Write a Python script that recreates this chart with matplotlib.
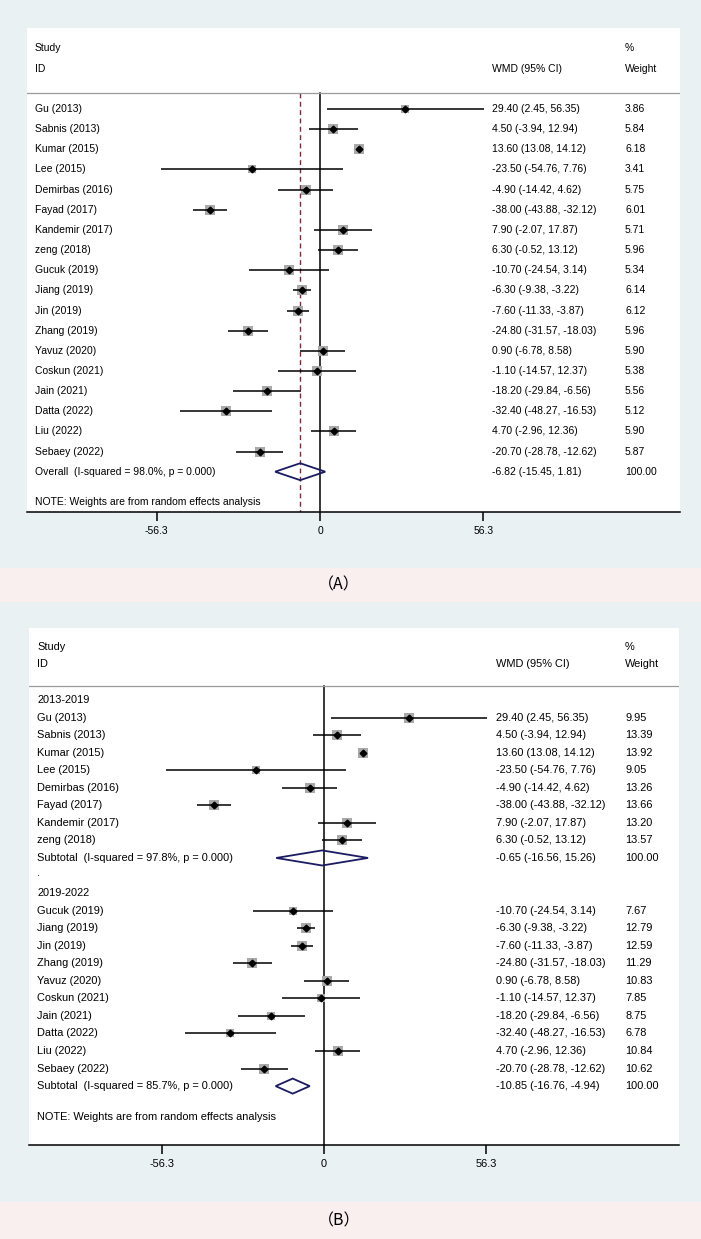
import numpy as np
import matplotlib
matplotlib.use("Agg")
import matplotlib.pyplot as plt
from matplotlib.patches import Polygon, Rectangle

# ---- panel A data (all studies) ----
studies_a = ["Gu (2013)", "Sabnis (2013)", "Kumar (2015)", "Lee (2015)", "Demirbas (2016)",
             "Fayad (2017)", "Kandemir (2017)", "zeng (2018)", "Gucuk (2019)", "Jiang (2019)",
             "Jin (2019)", "Zhang (2019)", "Yavuz (2020)", "Coskun (2021)", "Jain (2021)",
             "Datta (2022)", "Liu (2022)", "Sebaey (2022)"]
est_a = [29.40, 4.50, 13.60, -23.50, -4.90, -38.00, 7.90, 6.30, -10.70, -6.30,
         -7.60, -24.80, 0.90, -1.10, -18.20, -32.40, 4.70, -20.70]
lo_a = [2.45, -3.94, 13.08, -54.76, -14.42, -43.88, -2.07, -0.52, -24.54, -9.38,
        -11.33, -31.57, -6.78, -14.57, -29.84, -48.27, -2.96, -28.78]
hi_a = [56.35, 12.94, 14.12, 7.76, 4.62, -32.12, 17.87, 13.12, 3.14, -3.22,
        -3.87, -18.03, 8.58, 12.37, -6.56, -16.53, 12.36, -12.62]
w_a = [3.86, 5.84, 6.18, 3.41, 5.75, 6.01, 5.71, 5.96, 5.34, 6.14,
       6.12, 5.96, 5.90, 5.38, 5.56, 5.12, 5.90, 5.87]
overall_a = (-6.82, -15.45, 1.81)
overall_a_label = "Overall  (I-squared = 98.0%, p = 0.000)"

# ---- panel B data (subgroups) ----
groups_b = ["2013-2019", "2019-2022"]
studies_b = [["Gu (2013)", "Sabnis (2013)", "Kumar (2015)", "Lee (2015)", "Demirbas (2016)",
              "Fayad (2017)", "Kandemir (2017)", "zeng (2018)"],
             ["Gucuk (2019)", "Jiang (2019)", "Jin (2019)", "Zhang (2019)", "Yavuz (2020)",
              "Coskun (2021)", "Jain (2021)", "Datta (2022)", "Liu (2022)", "Sebaey (2022)"]]
est_b = [[29.40, 4.50, 13.60, -23.50, -4.90, -38.00, 7.90, 6.30],
         [-10.70, -6.30, -7.60, -24.80, 0.90, -1.10, -18.20, -32.40, 4.70, -20.70]]
lo_b = [[2.45, -3.94, 13.08, -54.76, -14.42, -43.88, -2.07, -0.52],
        [-24.54, -9.38, -11.33, -31.57, -6.78, -14.57, -29.84, -48.27, -2.96, -28.78]]
hi_b = [[56.35, 12.94, 14.12, 7.76, 4.62, -32.12, 17.87, 13.12],
        [3.14, -3.22, -3.87, -18.03, 8.58, 12.37, -6.56, -16.53, 12.36, -12.62]]
w_b = [[9.95, 13.39, 13.92, 9.05, 13.26, 13.66, 13.20, 13.57],
       [7.67, 12.79, 12.59, 11.29, 10.83, 7.85, 8.75, 6.78, 10.84, 10.62]]
sub_b = [(-0.65, -16.56, 15.26), (-10.85, -16.76, -4.94)]
sub_b_labels = ["Subtotal  (I-squared = 97.8%, p = 0.000)",
                "Subtotal  (I-squared = 85.7%, p = 0.000)"]

ticks = [-56.3, 0, 56.3]
tick_labels = ["-56.3", "0", "56.3"]

W, H = 701, 1239
BG = "#e9f1f3"
PINK = "#f9efee"
GREY_BOX = "#a9a9a9"
NAVY = "#1b1b62"
plt.rcParams["font.family"] = ["Liberation Sans", "DejaVu Sans"]

fig = plt.figure(figsize=(W / 100, H / 100), dpi=100)
fig.patch.set_facecolor(BG)


def fx(px):
    return px / W


def fy(py):
    return 1 - py / H


def make_axes(x0, x1, ytop, ybot, zero_px, px_per_unit, row0_px, row_step, fs):
    ax = fig.add_axes([fx(x0), fy(ybot), fx(x1 - x0), (ybot - ytop) / H])
    ax.set_facecolor("white")
    ax.set_xlim((x0 - zero_px) / px_per_unit, (x1 - zero_px) / px_per_unit)
    ax.set_ylim((ybot - row0_px) / row_step, (ytop - row0_px) / row_step)
    for s in ["top", "left", "right"]:
        ax.spines[s].set_visible(False)
    ax.spines["bottom"].set_linewidth(1.1)
    ax.set_yticks([])
    ax.set_xticks(ticks)
    ax.set_xticklabels(tick_labels, fontsize=fs)
    ax.tick_params(axis="x", length=6.5, width=1.1, pad=3.5, colors="black")
    return ax


def header(ax, row_study, row_id, row_line, cols, fs):
    tr = ax.get_yaxis_transform()
    ax.text(cols[0], row_study, "Study", transform=tr, fontsize=fs, va="center")
    ax.text(cols[0], row_id, "ID", transform=tr, fontsize=fs, va="center")
    ax.text(cols[1], row_id, "WMD (95% CI)", transform=tr, fontsize=fs, va="center")
    ax.text(cols[2], row_study, "%", transform=tr, fontsize=fs, va="center")
    ax.text(cols[2], row_id, "Weight", transform=tr, fontsize=fs, va="center")
    ax.axhline(row_line, color="#9a9a9a", lw=0.9)


def study_row(ax, y, name, e, l, h, w, wmax, cols, fs, max_side):
    tr = ax.get_yaxis_transform()
    ax.plot([l, h], [y, y], color="black", lw=1.1, solid_capstyle="butt", zorder=3)
    side = max_side * np.sqrt(w / wmax)
    ax.scatter([e], [y], marker="s", s=side ** 2, color=GREY_BOX, lw=0, zorder=2)
    ax.plot([e], [y], marker="D", ms=3.4, color="black", zorder=4)
    ax.text(cols[0], y, name, transform=tr, fontsize=fs, va="center")
    ax.text(cols[1], y, f"{e:.2f} ({l:.2f}, {h:.2f})", transform=tr, fontsize=fs, va="center")
    ax.text(cols[2], y, f"{w:.2f}", transform=tr, fontsize=fs, va="center")


def pooled_row(ax, y, label, pooled, cols, fs, half):
    tr = ax.get_yaxis_transform()
    e, l, h = pooled
    ax.add_patch(Polygon([[l, y], [e, y - half], [h, y], [e, y + half]], closed=True,
                         fill=False, edgecolor=NAVY, lw=1.3, zorder=4))
    ax.text(cols[0], y, label, transform=tr, fontsize=fs, va="center")
    ax.text(cols[1], y, f"{e:.2f} ({l:.2f}, {h:.2f})", transform=tr, fontsize=fs, va="center")
    ax.text(cols[2], y, "100.00", transform=tr, fontsize=fs, va="center")


# ---------------- panel A ----------------
fsA = 7.5
rowA0, stepA = 109, 20.15
axA = make_axes(27, 680, 28, 512, 320, 2.904, rowA0, stepA, fsA)
colsA = [(35 - 27) / 653, (492 - 27) / 653, (625 - 27) / 653]
line_a = (93 - rowA0) / stepA
header(axA, (48 - rowA0) / stepA, (69 - rowA0) / stepA, line_a, colsA, fsA)
bottom_a = axA.get_ylim()[0]
axA.plot([0, 0], [line_a, bottom_a], color="black", lw=1.1, zorder=1)
axA.plot([overall_a[0]] * 2, [line_a, bottom_a], color="#7e2838", lw=1.0,
         ls=(0, (3.5, 2.5)), zorder=1)
for i, name in enumerate(studies_a):
    study_row(axA, i, name, est_a[i], lo_a[i], hi_a[i], w_a[i], max(w_a), colsA, fsA, 7.4)
n_a = len(studies_a)
pooled_row(axA, n_a, overall_a_label, overall_a, colsA, fsA, 0.42)
axA.text(colsA[0], n_a + 1.5, "NOTE: Weights are from random effects analysis",
         transform=axA.get_yaxis_transform(), fontsize=fsA, va="center")

# ---------------- panel B ----------------
fsB = 7.9
rowB0, stepB = 700, 17.55
axB = make_axes(29, 679, 628, 1145, 324, 2.886, rowB0, stepB, fsB)
colsB = [(37 - 29) / 650, (496 - 29) / 650, (625 - 29) / 650]
line_b = (686 - rowB0) / stepB
header(axB, (647 - rowB0) / stepB, (664 - rowB0) / stepB, line_b, colsB, fsB)
bottom_b = axB.get_ylim()[0]
axB.plot([0, 0], [line_b, bottom_b], color="black", lw=1.1, zorder=1)
trB = axB.get_yaxis_transform()
wmax_b = max(max(g) for g in w_b)
row = 0
for g in range(len(groups_b)):
    axB.text(colsB[0], row, groups_b[g], transform=trB, fontsize=fsB, va="center")
    row += 1
    for j, name in enumerate(studies_b[g]):
        study_row(axB, row, name, est_b[g][j], lo_b[g][j], hi_b[g][j], w_b[g][j],
                  wmax_b, colsB, fsB, 7.8)
        row += 1
    pooled_row(axB, row, sub_b_labels[g], sub_b[g], colsB, fsB, 0.43)
    row += 1
    if g < len(groups_b) - 1:
        axB.text(colsB[0], row - 0.15, ".", transform=trB, fontsize=fsB, va="center")
        row += 1
axB.text(colsB[0], row + 0.75, "NOTE: Weights are from random effects analysis",
         transform=trB, fontsize=fsB, va="center")

# ---------------- captions ----------------
for (y0, y1, lab) in [(568, 602, "（A）"), (1202, 1239, "（B）")]:
    fig.patches.append(Rectangle((0, fy(y1)), 1, (y1 - y0) / H, transform=fig.transFigure,
                                 facecolor=PINK, edgecolor="none", zorder=0))
    fig.text(fx(339), fy((y0 + y1) / 2), lab, ha="center", va="center", fontsize=11.5,
             family=["Noto Sans CJK SC", "DejaVu Sans"])

fig.savefig("out.png", dpi=100, facecolor=BG)
